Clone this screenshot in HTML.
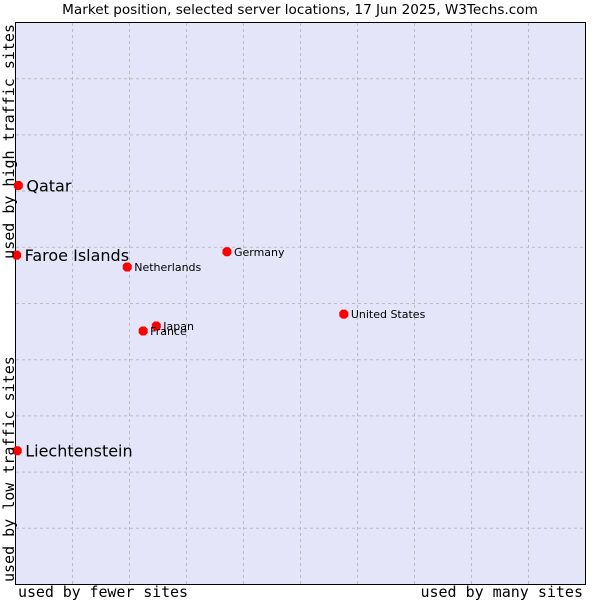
<!DOCTYPE html>
<html><head><meta charset="utf-8"><style>
body{margin:0;background:#fff;width:600px;height:600px;overflow:hidden}
svg text{font-family:"DejaVu Sans","Liberation Sans",sans-serif}
.mono{font-family:"DejaVu Sans Mono",monospace}
</style></head><body>
<svg id="chart" width="600" height="600">
<text x="300" y="14" text-anchor="middle" font-size="13.6" fill="#000">Market position, selected server locations, 17 Jun 2025, W3Techs.com</text>
<rect x="15.5" y="22.5" width="570" height="562" fill="#e4e5f8" stroke="#000"/>
<g id="grid"></g>
<g id="points"></g>
<text x="18" y="597" class="mono" font-size="15" textLength="170">used by fewer sites</text>
<text x="583" y="597" text-anchor="end" class="mono" font-size="15">used by many sites</text>
<text transform="translate(14,582) rotate(-90)" class="mono" font-size="15">used by low traffic sites</text>
<text transform="translate(14,24) rotate(-90)" text-anchor="end" class="mono" font-size="15">used by high traffic sites</text>
</svg>
<script>
const names=["Qatar","Faroe Islands","Liechtenstein","Netherlands","Germany","United States","Japan","France"];
const xVals=[0.5,0.2,0.3,19.6,37.1,57.6,24.7,22.4];
const yVals=[71.0,58.6,23.8,56.5,59.2,48.1,46.0,45.1];
const bigLabel=[true,true,true,false,false,false,false,false];
const ns="http://www.w3.org/2000/svg";
const X=v=>15.5+v*5.7, Y=v=>584.5-v*5.62;
const grid=document.getElementById('grid');
for(let i=1;i<10;i++){
 let l=document.createElementNS(ns,'line');
 l.setAttribute('x1',X(i*10));l.setAttribute('x2',X(i*10));l.setAttribute('y1',23);l.setAttribute('y2',584);
 l.setAttribute('stroke','#bbb');l.setAttribute('stroke-dasharray','3,3');
 
 
 grid.appendChild(l);
 let h=document.createElementNS(ns,'line');
 h.setAttribute('y1',Y(i*10));h.setAttribute('y2',Y(i*10));h.setAttribute('x1',16);h.setAttribute('x2',585);
 h.setAttribute('stroke','#bbb');h.setAttribute('stroke-dasharray','3,3');
 
 
 grid.appendChild(h);
}
const pts=document.getElementById('points');
names.forEach((n,i)=>{
 const x=X(xVals[i]),y=Y(yVals[i]);
 const p=document.createElementNS(ns,'polygon');
 p.setAttribute('points',`${x-2},${y-4.5} ${x+2},${y-4.5} ${x+4.5},${y-2} ${x+4.5},${y+2} ${x+2},${y+4.5} ${x-2},${y+4.5} ${x-4.5},${y+2} ${x-4.5},${y-2}`);
 p.setAttribute('fill','#f00');
 
 
 pts.appendChild(p);
 const t=document.createElementNS(ns,'text');
 t.setAttribute('x',x+(bigLabel[i]?8:7));
 t.setAttribute('y',y+(bigLabel[i]?6:4));
 t.setAttribute('font-size',bigLabel[i]?16:11);
 t.textContent=n;
 
 
 pts.appendChild(t);
});
</script>
</body></html>
